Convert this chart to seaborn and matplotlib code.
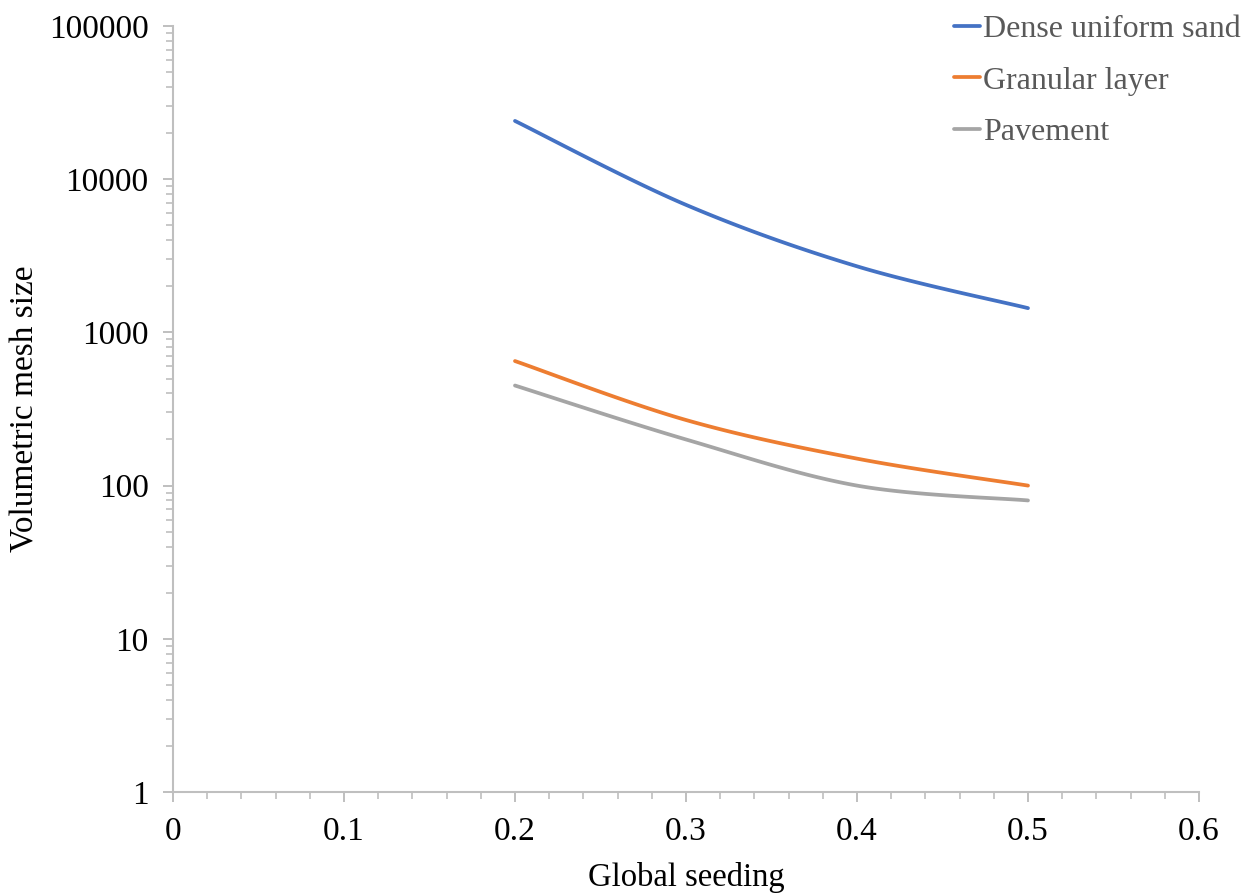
import numpy as np
import pandas as pd
import matplotlib
matplotlib.use("Agg")
import matplotlib.pyplot as plt
import seaborn as sns
from matplotlib.ticker import LogLocator, MultipleLocator, FixedLocator, NullFormatter

# Global seeding sizes and resulting volumetric mesh sizes
seeding = [0.2, 0.3, 0.4, 0.5]
dense_uniform_sand = [24000, 6800, 2700, 1440]
granular_layer = [650, 268, 150, 100]
pavement = [450, 200, 100, 80]

series_names = ["Dense uniform sand", "Granular layer", "Pavement"]
series_values = [dense_uniform_sand, granular_layer, pavement]
colors = ["#4472C4", "#ED7D31", "#A5A5A5"]

x_ticks = [0, 0.1, 0.2, 0.3, 0.4, 0.5, 0.6]
y_ticks = [1, 10, 100, 1000, 10000, 100000]


def smooth_curve(xs, ys, steps=40):
    """Catmull-Rom style smoothing in (x, log10 y) space."""
    px = np.asarray(xs, float)
    py = np.log10(np.asarray(ys, float))
    n = len(px)
    out_x, out_y = [], []
    for i in range(n - 1):
        i0, i1, i2, i3 = max(i - 1, 0), i, i + 1, min(i + 2, n - 1)
        p0, p1, p2, p3 = [np.array([px[k], py[k]]) for k in (i0, i1, i2, i3)]
        c1 = p1 + (p2 - p0) / 6.0
        c2 = p2 - (p3 - p1) / 6.0
        t = np.linspace(0, 1, steps, endpoint=(i == n - 2))
        pts = ((1 - t) ** 3)[:, None] * p1 + (3 * (1 - t) ** 2 * t)[:, None] * c1 \
            + (3 * (1 - t) * t ** 2)[:, None] * c2 + (t ** 3)[:, None] * p2
        out_x.extend(pts[:, 0])
        out_y.extend(pts[:, 1])
    return np.array(out_x), 10 ** np.array(out_y)


frames = []
for name, vals in zip(series_names, series_values):
    sx, sy = smooth_curve(seeding, vals)
    frames.append(pd.DataFrame({"seeding": sx, "mesh": sy, "series": name}))
df = pd.concat(frames, ignore_index=True)

sns.set_theme(style="white")
plt.rcParams["font.family"] = ["Liberation Serif", "DejaVu Serif"]

fig = plt.figure(figsize=(12.58, 8.93), dpi=100)
ax = fig.add_axes([0.1375, 0.1131, 0.8156, 0.8578])

sns.lineplot(data=df, x="seeding", y="mesh", hue="series", hue_order=series_names,
             palette=colors, sort=False, estimator=None, units="series",
             linewidth=2.7, ax=ax, legend=True)

ax.set_yscale("log")
ax.set_xlim(0, 0.6)
ax.set_ylim(1, 100000)

axis_grey = "#BFBFBF"
ax.xaxis.set_major_locator(FixedLocator(x_ticks))
ax.xaxis.set_minor_locator(MultipleLocator(0.02))
ax.set_xticklabels([f"{v:g}" for v in x_ticks])
ax.yaxis.set_major_locator(FixedLocator(y_ticks))
ax.set_yticklabels([str(v) for v in y_ticks])
ax.yaxis.set_minor_locator(LogLocator(base=10, subs=np.arange(2, 10)))
ax.yaxis.set_minor_formatter(NullFormatter())

ax.tick_params(axis="both", which="both", bottom=True, left=True, top=False, right=False)
ax.tick_params(axis="both", which="major", direction="out", length=7.5, width=1.4,
               color=axis_grey, labelsize=24, labelcolor="black", pad=10)
ax.tick_params(axis="both", which="minor", direction="out", length=5, width=1.2,
               color=axis_grey)
ax.tick_params(axis="x", which="major", pad=10)

for side in ["top", "right"]:
    ax.spines[side].set_visible(False)
for side in ["left", "bottom"]:
    ax.spines[side].set_color(axis_grey)
    ax.spines[side].set_linewidth(1.5)

ax.set_xlabel("Global seeding", fontsize=23.5, color="black", labelpad=11)
ax.set_ylabel("Volumetric mesh size", fontsize=24, color="black", labelpad=6)

handles, labels = ax.get_legend_handles_labels()
ax.legend(handles, labels, loc="upper right", bbox_to_anchor=(1.009, 1.016),
          bbox_transform=fig.transFigure, frameon=False, fontsize=23,
          handlelength=0.8, handletextpad=0.1, labelspacing=0.7,
          labelcolor="#595959")

fig.savefig("out.png", dpi=100)
